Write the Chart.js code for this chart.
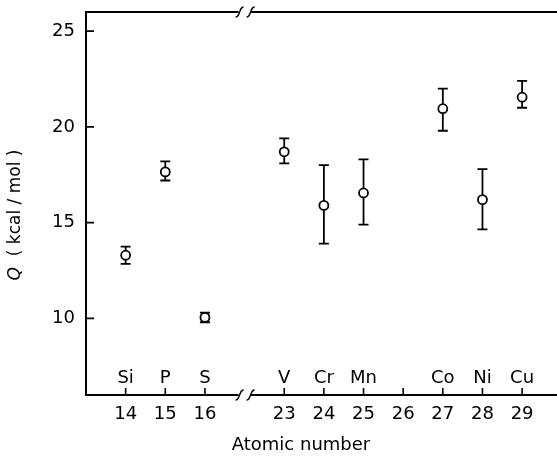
<!DOCTYPE html>
<html>
<head>
<meta charset="utf-8">
<script src="https://cdn.jsdelivr.net/npm/chart.js@4/dist/chart.umd.min.js"></script>
<style>
  html, body { margin: 0; padding: 0; background: #fff; }
  #chart { display: block; }
</style>
</head>
<body>
<canvas id="chart" width="557" height="457"></canvas>
<script>
// data
const atomicNumbers = [14, 15, 16, 23, 24, 25, 27, 28, 29];
const elements = ['Si', 'P', 'S', 'V', 'Cr', 'Mn', 'Co', 'Ni', 'Cu'];
const qValues = [13.3, 17.65, 10.05, 18.7, 15.9, 16.55, 20.95, 16.2, 21.55];
const qErrHigh = [0.45, 0.55, 0.25, 0.7, 2.1, 1.75, 1.05, 1.6, 0.85];
const qErrLow = [0.45, 0.45, 0.25, 0.6, 2.0, 1.65, 1.15, 1.55, 0.55];
const xTickLabels = [14, 15, 16, 23, 24, 25, 26, 27, 28, 29];
const yTickValues = [10, 15, 20, 25];

// broken axis: 17..22 are skipped, the gap sits one slot after 16
const axisPos = z => z <= 16 ? z : z - 5;
const breakPos = 17;

const FONT = 'DejaVu Sans';

const framePlugin = {
    id: 'frame',
    beforeDatasetsDraw(chart) {
        const ctx = chart.ctx;
        const x = chart.scales.x, y = chart.scales.y;
        ctx.save();
        ctx.strokeStyle = '#000';
        ctx.lineWidth = 1.8;
        atomicNumbers.forEach((z, i) => {
            const px = x.getPixelForValue(axisPos(z));
            const top = y.getPixelForValue(qValues[i] + qErrHigh[i]);
            const bot = y.getPixelForValue(qValues[i] - qErrLow[i]);
            ctx.beginPath();
            ctx.moveTo(px, top); ctx.lineTo(px, bot);
            ctx.moveTo(px - 5, top); ctx.lineTo(px + 5, top);
            ctx.moveTo(px - 5, bot); ctx.lineTo(px + 5, bot);
            ctx.stroke();
        });
        ctx.restore();
    },
    afterDraw(chart) {
        const ctx = chart.ctx;
        const area = chart.chartArea;
        const x = chart.scales.x, y = chart.scales.y;
        ctx.save();
        ctx.strokeStyle = '#000';
        ctx.fillStyle = '#000';

        // top line
        ctx.lineWidth = 2;
        ctx.beginPath();
        ctx.moveTo(area.left, area.top);
        ctx.lineTo(area.right, area.top);
        ctx.stroke();

        // inward ticks
        ctx.lineWidth = 1.6;
        ctx.beginPath();
        xTickLabels.forEach(z => {
            const px = x.getPixelForValue(axisPos(z));
            ctx.moveTo(px, area.bottom);
            ctx.lineTo(px, area.bottom - 7);
        });
        yTickValues.forEach(v => {
            const py = y.getPixelForValue(v);
            ctx.moveTo(area.left, py);
            ctx.lineTo(area.left + 8, py);
        });
        ctx.stroke();

        // axis break marks on top and bottom lines
        const bx = x.getPixelForValue(breakPos);
        [area.top, area.bottom].forEach(ly => {
            ctx.fillStyle = '#fff';
            ctx.fillRect(bx - 6, ly - 2, 12, 4);
            ctx.lineWidth = 1.5;
            [-5, 6].forEach(dx => {
                const cx = bx + dx;
                ctx.beginPath();
                ctx.moveTo(cx - 4, ly + 5);
                ctx.bezierCurveTo(cx - 1, ly + 5, cx - 1, ly + 2, cx, ly);
                ctx.bezierCurveTo(cx + 1, ly - 2, cx + 1, ly - 5, cx + 4, ly - 5);
                ctx.stroke();
            });
        });

        // element symbols above the x ticks
        ctx.fillStyle = '#000';
        ctx.font = '18px "' + FONT + '"';
        ctx.textAlign = 'center';
        ctx.textBaseline = 'alphabetic';
        atomicNumbers.forEach((z, i) => {
            ctx.fillText(elements[i], x.getPixelForValue(axisPos(z)), area.bottom - 12);
        });

        // x title
        ctx.textBaseline = 'middle';
        ctx.fillText('Atomic number', 301, 445);

        // y title, italic Q
        ctx.translate(16, 215);
        ctx.rotate(-Math.PI / 2);
        ctx.textAlign = 'left';
        const qFont = 'italic 17px "' + FONT + '"';
        const restFont = '17px "' + FONT + '"';
        const rest = '  ( kcal / mol )';
        ctx.font = qFont;
        const wq = ctx.measureText('Q').width;
        ctx.font = restFont;
        const wr = ctx.measureText(rest).width;
        const start = -(wq + wr) / 2;
        ctx.font = qFont;
        ctx.fillText('Q', start, 0);
        ctx.font = restFont;
        ctx.fillText(rest, start + wq, 0);
        ctx.restore();
    }
};

new Chart(document.getElementById('chart'), {
    type: 'scatter',
    data: {
        datasets: [{
            data: atomicNumbers.map((z, i) => ({ x: axisPos(z), y: qValues[i] })),
            pointStyle: 'circle',
            pointRadius: 4.5,
            pointBorderWidth: 1.8,
            pointBackgroundColor: '#fff',
            pointBorderColor: '#000'
        }]
    },
    options: {
        responsive: false,
        animation: false,
        layout: { autoPadding: false, padding: { top: 12, right: 0, left: 0, bottom: 0 } },
        plugins: { legend: { display: false }, tooltip: { enabled: false } },
        scales: {
            x: {
                type: 'linear',
                min: 13,
                max: 24.88,
                afterBuildTicks: s => { s.ticks = xTickLabels.map(z => ({ value: axisPos(z) })); },
                afterFit: s => { s.height = 62; s.paddingLeft = 0; s.paddingRight = 0; },
                grid: { drawOnChartArea: false, drawTicks: false },
                border: { display: true, color: '#000', width: 2 },
                ticks: {
                    color: '#000',
                    padding: 9,
                    font: { family: FONT, size: 18 },
                    callback: v => {
                        const i = xTickLabels.findIndex(z => axisPos(z) === v);
                        return i >= 0 ? String(xTickLabels[i]) : '';
                    }
                }
            },
            y: {
                min: 6,
                max: 26,
                afterBuildTicks: s => { s.ticks = yTickValues.map(v => ({ value: v })); },
                afterFit: s => { s.width = 86; s.paddingTop = 0; s.paddingBottom = 0; },
                grid: { drawOnChartArea: false, drawTicks: false },
                border: { display: true, color: '#000', width: 2 },
                ticks: {
                    color: '#000',
                    padding: 11,
                    font: { family: FONT, size: 18 }
                }
            }
        }
    },
    plugins: [framePlugin]
});
</script>
</body>
</html>
